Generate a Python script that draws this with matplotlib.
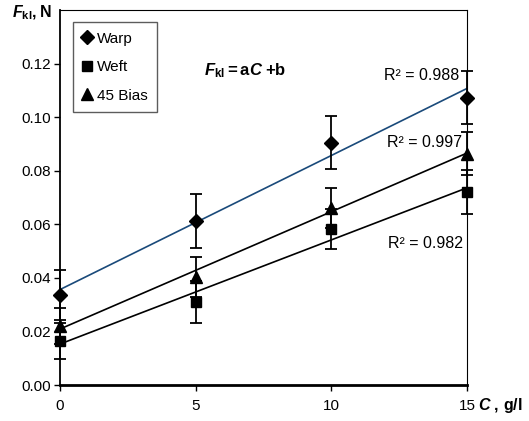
import numpy as np
import matplotlib
matplotlib.use("Agg")
import matplotlib.pyplot as plt
from matplotlib.lines import Line2D

plt.rcParams['font.family'] = 'Liberation Sans'
plt.rcParams['mathtext.fontset'] = 'custom'
plt.rcParams['mathtext.rm'] = 'Liberation Sans'
plt.rcParams['mathtext.it'] = 'Liberation Sans:italic:bold'
plt.rcParams['mathtext.bf'] = 'Liberation Sans:bold'

# concentration, g/l
conc = [0, 5, 10, 15]

# force, N, with standard deviation
warp = [0.0336, 0.0613, 0.0905, 0.1073]
warp_err = [0.0095, 0.0100, 0.0098, 0.0100]
weft = [0.0164, 0.0310, 0.0583, 0.0721]
weft_err = [0.0067, 0.0078, 0.0075, 0.0082]
bias = [0.0220, 0.0404, 0.0662, 0.0864]
bias_err = [0.0068, 0.0074, 0.0074, 0.0080]

r2_labels = ["R² = 0.988", "R² = 0.997", "R² = 0.982"]

def main():
    fig = plt.figure(figsize=(5.29, 4.21), dpi=100)
    ax = fig.add_axes([0.1134, 0.0855, 0.7694, 0.8907])

    series = [
        (warp, warp_err, 'D', 7, '#1a4a7a'),
        (weft, weft_err, 's', 7, 'black'),
        (bias, bias_err, '^', 8.5, 'black'),
    ]
    x = np.array(conc)
    xs = np.array([0, 15])
    for y, err, mk, ms, lc in series:
        eb = ax.errorbar(x, y, yerr=err, fmt=mk, ms=ms, color='black', ecolor='black',
                         elinewidth=1.3, capsize=4.5, capthick=1.3, zorder=3)
        for art in eb.get_children():
            art.set_clip_on(False)
        # linear trendline
        a, b = np.polyfit(x, y, 1)
        ax.plot(xs, a * xs + b, color=lc, lw=1.2, zorder=2)

    ax.set_xlim(0, 15)
    ax.set_ylim(0, 0.14)
    ax.set_xticks([0, 5, 10, 15])
    ax.set_yticks(np.arange(0, 0.121, 0.02))
    ax.yaxis.set_major_formatter(matplotlib.ticker.FormatStrFormatter('%.2f'))
    ax.tick_params(axis='y', direction='out', length=4, width=1, pad=2.5, labelsize=11)
    ax.tick_params(axis='x', direction='out', length=4, width=1, pad=6, labelsize=11)
    ax.spines['bottom'].set_linewidth(2)
    ax.spines['left'].set_linewidth(1.3)
    ax.spines['top'].set_linewidth(0.8)
    ax.spines['right'].set_linewidth(0.8)

    # R^2 labels near the right end of each line
    ax.text(14.70, 0.1157, r2_labels[0], ha='right', va='center', fontsize=11.5)
    ax.text(14.82, 0.0907, r2_labels[1], ha='right', va='center', fontsize=11.5)
    ax.text(14.85, 0.0530, r2_labels[2], ha='right', va='center', fontsize=11.5)

    ax.text(5.3, 0.1175, r'$\mathit{F}_{\mathbf{kl}}\mathbf{=a}\mathit{C}\;\mathbf{+b}$',
            ha='left', va='center', fontsize=12)

    fig.text(0.023, 0.958, r'$\mathit{F}_{\mathbf{kl}}\mathbf{,}\;\mathbf{N}$', ha='left',
             va='baseline', fontsize=11.5)
    fig.text(0.903, 0.038, r'$\mathit{C}\;\mathbf{,\,g/l}$', ha='left', va='center',
             fontsize=11.5)

    handles = [
        Line2D([], [], ls='none', marker='D', ms=7, color='black', label='Warp'),
        Line2D([], [], ls='none', marker='s', ms=7, color='black', label='Weft'),
        Line2D([], [], ls='none', marker='^', ms=8, color='black', label='45 Bias'),
    ]
    leg = ax.legend(handles=handles, loc='upper left', bbox_to_anchor=(0.032, 0.967),
                    fontsize=11, frameon=True, fancybox=False, borderpad=0.6,
                    handlelength=0.6, handletextpad=0.35, labelspacing=0.95,
                    borderaxespad=0)
    leg.get_frame().set_edgecolor('#333333')
    leg.get_frame().set_linewidth(1)

    fig.savefig('out.png', dpi=100)

main()
